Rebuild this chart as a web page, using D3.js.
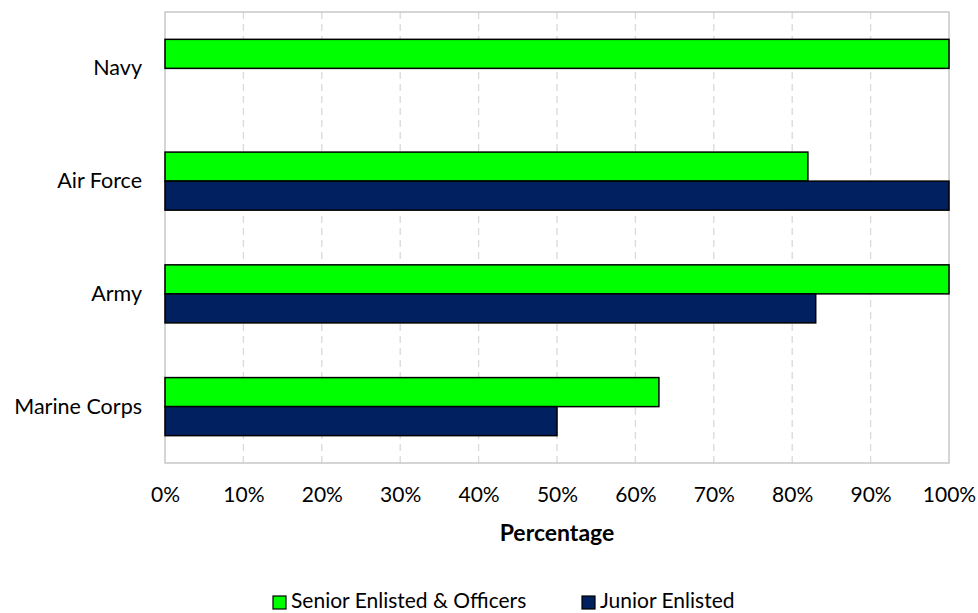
<!DOCTYPE html>
<html><head><meta charset="utf-8">
<script src="https://cdn.jsdelivr.net/npm/d3@7"></script>
<style>body{margin:0;background:#fff}svg{display:block;font-family:Lato,"Open Sans",sans-serif}</style>
</head><body><svg id="c" width="978" height="613"></svg>
<script>
const categories = ["Navy", "Air Force", "Army", "Marine Corps"];
const seriesNames = ["Senior Enlisted & Officers", "Junior Enlisted"];
const seniorValues = [100, 82, 100, 63];
const juniorValues = [null, 100, 83, 50];
const xTicks = [0,10,20,30,40,50,60,70,80,90,100];
const colors = ["#00FF00", "#002060"];

const FONT = "Lato, 'Open Sans', sans-serif";
const svg = d3.select("#c");
const L = 165, R = 949, T = 12, B = 463;
const x = d3.scaleLinear().domain([0,100]).range([L,R]);
const y = d3.scaleBand().domain(categories).range([T,B]).paddingInner(0.485).paddingOuter(0.2425);
const ys = d3.scaleBand().domain(seriesNames).range([0, y.bandwidth()]);

// gridlines
svg.append("g").selectAll("line").data(xTicks.slice(1,-1)).join("line")
  .attr("x1", d=>x(d)).attr("x2", d=>x(d)).attr("y1", T).attr("y2", B)
  .attr("stroke", "#d9d9d9").attr("stroke-width", 1.3).attr("stroke-dasharray", "7,5");
// plot border
svg.append("rect").attr("x", L).attr("y", T).attr("width", R-L).attr("height", B-T)
  .attr("fill","none").attr("stroke","#bfbfbf").attr("stroke-width",1.3);

const data = [];
categories.forEach((c,i)=>{
  data.push({c, s: seriesNames[0], v: seniorValues[i], col: colors[0]});
  data.push({c, s: seriesNames[1], v: juniorValues[i], col: colors[1]});
});
svg.append("g").selectAll("rect").data(data.filter(d=>d.v!=null && d.v>0)).join("rect")
  .attr("x", x(0)).attr("y", d=>y(d.c)+ys(d.s))
  .attr("width", d=>x(d.v)-x(0)).attr("height", ys.bandwidth())
  .attr("fill", d=>d.col).attr("stroke", "#000").attr("stroke-width", 1.5);

// y axis labels
const yAxis = d3.axisLeft(y).tickSize(0).tickPadding(23);
const gy = svg.append("g").attr("transform", `translate(${L},0)`).call(yAxis);
gy.select(".domain").remove();
gy.selectAll("text").attr("font-size", 21.5).attr("fill","#000").attr("font-family", FONT);

// x axis labels
const xAxis = d3.axisBottom(x).tickValues(xTicks).tickFormat(d=>d+"%").tickSize(0);
const gx = svg.append("g").attr("transform", `translate(0,${B})`).call(xAxis);
gx.select(".domain").remove();
gx.selectAll("text").attr("font-size", 21).attr("fill","#000").attr("font-family", FONT)
  .attr("dy", 0).attr("y", 39);

svg.append("text").attr("x", (L+R)/2).attr("y", 541).attr("text-anchor","middle")
  .attr("font-size", 23).attr("font-weight","bold").attr("font-family", FONT).text("Percentage");

// legend
const leg = svg.append("g");
const legX = [273, 582];
seriesNames.forEach((s,i)=>{
  leg.append("rect").attr("x", legX[i]).attr("y", 596).attr("width", 13).attr("height", 13)
    .attr("fill", colors[i]).attr("stroke","#000").attr("stroke-width",1.2);
  leg.append("text").attr("x", legX[i]+18).attr("y", 608).attr("font-size", 21)
    .attr("font-family", FONT).text(s);
});
</script></body></html>
